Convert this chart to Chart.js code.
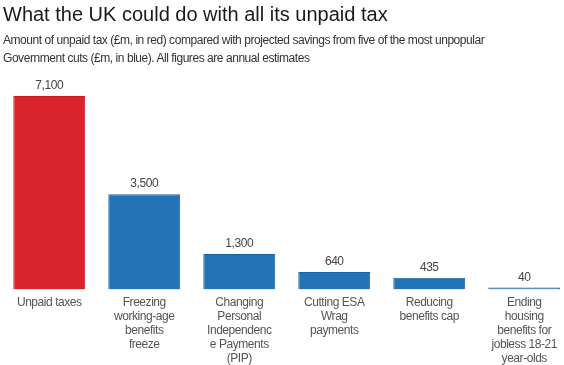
<!DOCTYPE html>
<html>
<head>
<meta charset="utf-8">
<script src="https://cdn.jsdelivr.net/npm/chart.js@4/dist/chart.umd.min.js"></script>
<style>
  html, body { margin: 0; padding: 0; background: #fff; overflow: hidden; }
  body { width: 564px; height: 365px; position: relative; font-family: "Liberation Sans", Arial, sans-serif; }
  #title { position: absolute; left: 3px; top: 3px; font-size: 20px; color: #1a1a1a; white-space: nowrap; }
  #subtitle { position: absolute; left: 3px; top: 31px; font-size: 12px; letter-spacing: -0.45px; line-height: 18px; color: #333; width: 540px; }
  #wrap { position: absolute; left: 0; top: 0; width: 574px; height: 365px; }
</style>
</head>
<body>
<div id="wrap"><canvas id="taxChart" width="574" height="365"></canvas></div>
<div id="title">What the UK could do with all its unpaid tax</div>
<div id="subtitle">Amount of unpaid tax (£m, in red) compared with projected savings from five of the most unpopular<br>Government cuts (£m, in blue). All figures are annual estimates</div>
<script>
// chart data
const categories = [
    ['Unpaid taxes'],
    ['Freezing', 'working-age', 'benefits', 'freeze'],
    ['Changing', 'Personal', 'Independenc', 'e Payments', '(PIP)'],
    ['Cutting ESA', 'Wrag', 'payments'],
    ['Reducing', 'benefits cap'],
    ['Ending', 'housing', 'benefits for', 'jobless 18-21', 'year-olds']
];
const amounts = [7100, 3500, 1300, 640, 435, 40];
const barColours = ['#d7252b', '#2173b6', '#2173b6', '#2173b6', '#2173b6', '#2173b6'];
const borderColours = ['#c41e24', '#1b64a3', '#1b64a3', '#1b64a3', '#1b64a3', '#1b64a3'];

// tighter text, like the original's rendering
const tightText = {
    id: 'tightText',
    beforeDraw(chart) {
        chart.ctx.letterSpacing = '-0.45px';
    }
};

// draws the value above each bar
const valueLabels = {
    id: 'valueLabels',
    afterDatasetsDraw(chart) {
        const ctx = chart.ctx;
        const meta = chart.getDatasetMeta(0);
        ctx.save();
        ctx.font = '12px "Liberation Sans", Arial, sans-serif';
        ctx.fillStyle = '#444';
        ctx.textAlign = 'center';
        ctx.textBaseline = 'middle';
        meta.data.forEach((bar, i) => {
            ctx.fillText(amounts[i].toLocaleString('en-GB'), bar.x, bar.y - 10);
        });
        ctx.restore();
    }
};

const ctx = document.getElementById('taxChart').getContext('2d');
new Chart(ctx, {
    type: 'bar',
    data: {
        labels: categories,
        datasets: [{
            data: amounts,
            backgroundColor: barColours,
            borderColor: borderColours,
            borderWidth: 1,
            minBarLength: 2,
            categoryPercentage: 1,
            barPercentage: 0.757
        }]
    },
    options: {
        responsive: false,
        animation: false,
        layout: { padding: { top: 71.5, left: 1.75, right: 2.25, bottom: 0 } },
        plugins: {
            legend: { display: false },
            tooltip: { enabled: false }
        },
        scales: {
            y: {
                display: false,
                min: 0,
                max: 8000
            },
            x: {
                grid: { display: false, drawTicks: false },
                border: { display: false },
                ticks: {
                    color: '#555',
                    padding: 6,
                    maxRotation: 0,
                    autoSkip: false,
                    font: { family: '"Liberation Sans", Arial, sans-serif', size: 12, lineHeight: 1.17 }
                },
                afterFit(scale) {
                    scale.height = 75.5;
                }
            }
        }
    },
    plugins: [tightText, valueLabels]
});
</script>
</body>
</html>
